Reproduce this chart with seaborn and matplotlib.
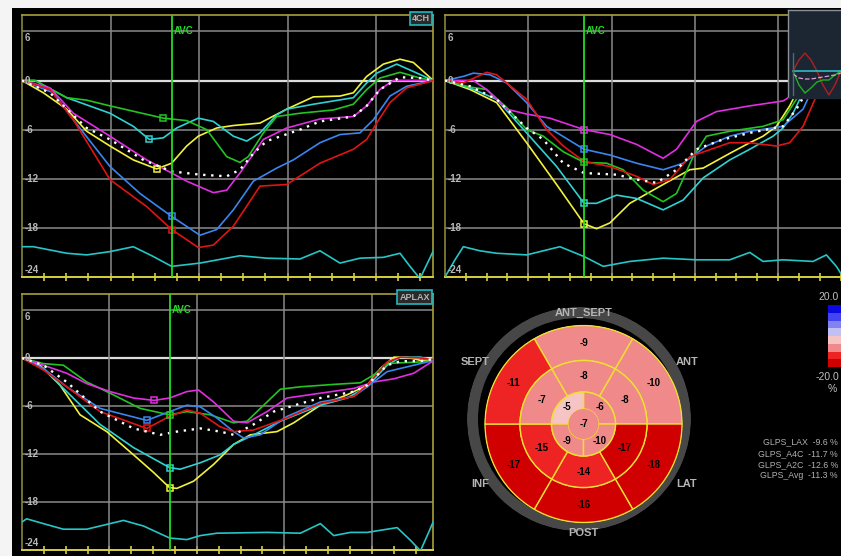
import numpy as np
import pandas as pd
import matplotlib
matplotlib.use("Agg")
import matplotlib.pyplot as plt
import seaborn as sns
from matplotlib.colors import ListedColormap, BoundaryNorm
from matplotlib.cm import ScalarMappable
from matplotlib.patches import Rectangle

# ---------------- segmental longitudinal strain curves (%) ----------------
# Apical 4-chamber view
a4c_yellow_t = [0, 0.241, 0.505, 0.731, 0.994, 1.258, 1.522, 1.691, 1.861, 1.992, 2.200, 2.388, 2.689, 2.991, 3.292, 3.593, 3.744, 3.895, 4.083, 4.271, 4.422, 4.648]
a4c_yellow_s = [0, -1.5, -3.5, -6.2, -8.0, -9.7, -10.8, -10.1, -8.0, -6.8, -5.8, -5.5, -5.2, -3.5, -2.0, -1.9, -1.5, 0.5, 2.0, 2.6, 2.2, 0]
a4c_cyan_t = [0, 0.147, 0.505, 0.994, 1.258, 1.439, 1.597, 1.748, 1.992, 2.162, 2.388, 2.539, 2.689, 2.878, 2.991, 3.292, 3.744, 3.895, 4.008, 4.234, 4.422, 4.648]
a4c_cyan_s = [0, 0, -2.1, -4.0, -5.6, -7.2, -7.0, -5.8, -4.6, -5.0, -6.8, -7.4, -6.4, -4.2, -3.5, -2.9, -2.1, -0.3, 0.9, 2.0, 1.1, 0]
a4c_green_t = [0, 0.147, 0.505, 0.731, 0.994, 1.597, 1.861, 2.087, 2.313, 2.463, 2.557, 2.727, 2.878, 3.141, 3.518, 3.744, 3.895, 4.045, 4.271, 4.497, 4.648]
a4c_green_s = [0, 0, -2.1, -2.4, -3.1, -4.6, -4.9, -6.0, -9.3, -10.0, -9.3, -6.4, -4.4, -4.0, -3.6, -2.9, -1.1, 0.3, 1.0, 0.3, 0]
a4c_magenta_t = [0, 0.316, 0.580, 0.994, 1.409, 1.691, 1.861, 2.162, 2.313, 2.463, 2.727, 2.991, 3.367, 3.744, 3.895, 4.045, 4.196, 4.648]
a4c_magenta_s = [0, -0.9, -4.0, -6.8, -9.7, -11.3, -12.3, -13.7, -13.4, -11.3, -7.2, -5.8, -4.7, -4.4, -3.1, -1.1, 0, 0]
a4c_blue_t = [0, 0.354, 0.580, 0.994, 1.333, 1.691, 2.011, 2.200, 2.388, 2.614, 2.878, 3.066, 3.367, 3.593, 3.819, 3.970, 4.158, 4.347, 4.648]
a4c_blue_s = [0, -1.5, -4.8, -10.5, -13.8, -16.6, -18.9, -18.2, -15.8, -12.3, -10.7, -9.7, -7.6, -6.6, -6.4, -4.8, -1.9, -0.7, 0]
a4c_red_t = [0, 0.316, 0.580, 0.994, 1.409, 1.691, 1.992, 2.162, 2.388, 2.689, 2.991, 3.367, 3.744, 3.895, 4.008, 4.158, 4.347, 4.648]
a4c_red_s = [0, -1.1, -4.8, -12.1, -15.4, -18.2, -20.4, -20.1, -17.8, -12.9, -12.7, -10.1, -8.4, -7.2, -5.2, -2.7, -0.9, 0]
a4c_avg_t = [0, 0.316, 0.731, 0.994, 1.371, 1.691, 2.011, 2.313, 2.463, 2.614, 2.765, 3.141, 3.367, 3.744, 3.895, 4.045, 4.271, 4.497, 4.648]
a4c_avg_s = [0, -1.5, -5.8, -7.2, -9.7, -11.1, -11.5, -11.7, -10.9, -8.9, -7.4, -6.0, -5.0, -4.4, -3.1, -1.1, 0.4, 0.3, 0]
a4c_ecg_t = [0, 0.128, 0.505, 0.731, 0.994, 1.258, 1.484, 1.691, 2.011, 2.463, 2.765, 3.141, 3.367, 3.593, 3.819, 4.083, 4.271, 4.384, 4.497, 4.648]
a4c_ecg_s = [-20.3, -20.3, -21.1, -21.3, -20.9, -20.3, -21.5, -22.7, -22.3, -21.4, -21.7, -21.8, -20.8, -22.3, -21.7, -21.6, -21.1, -22.7, -24.2, -20.8]
a4c_avc = 1.69
a4c_peak_idx = {"yellow": 6, "cyan": 5, "green": 5, "blue": 5, "red": 5}

# Apical 2-chamber view
a2c_yellow_t = [0, 0.30, 0.62, 0.98, 1.34, 1.67, 1.82, 1.98, 2.22, 2.62, 2.94, 3.10, 3.42, 3.66, 3.82, 3.98, 4.14, 4.26, 4.34, 4.75]
a2c_yellow_s = [0, -1.1, -2.7, -7.6, -12.7, -17.5, -18.1, -17.4, -15.0, -12.7, -10.9, -10.7, -8.9, -7.6, -6.8, -5.6, -3.1, -0.7, 0.9, 0]
a2c_cyan_t = [0, 0.30, 0.62, 0.98, 1.34, 1.67, 1.82, 2.06, 2.30, 2.62, 2.86, 3.10, 3.42, 3.66, 3.94, 4.06, 4.18, 4.26, 4.42, 4.75]
a2c_cyan_s = [0, -0.9, -2.3, -6.4, -10.5, -15.0, -15.0, -14.0, -14.4, -15.8, -14.6, -11.9, -9.7, -8.4, -6.8, -5.8, -4.0, -2.3, 0.5, 0]
a2c_green_t = [0, 0.30, 0.50, 0.74, 0.98, 1.18, 1.42, 1.67, 1.94, 2.14, 2.38, 2.62, 2.78, 2.98, 3.14, 3.42, 3.82, 4.06, 4.22, 4.42, 4.75]
a2c_green_s = [0, -0.8, -1.1, -3.3, -6.0, -6.8, -8.7, -10.0, -10.1, -10.9, -13.4, -14.8, -13.8, -9.3, -6.8, -6.2, -5.6, -4.8, -2.3, 0.5, 0]
a2c_magenta_t = [0, 0.34, 0.50, 0.74, 0.98, 1.26, 1.67, 1.98, 2.30, 2.62, 2.78, 3.02, 3.26, 3.66, 4.06, 4.22, 4.42, 4.75]
a2c_magenta_s = [0, 0, -1.1, -3.5, -4.1, -4.6, -6.0, -6.6, -7.8, -9.5, -8.4, -5.0, -3.8, -3.1, -2.5, -1.5, 0.5, 0]
a2c_blue_t = [0, 0.22, 0.34, 0.54, 0.74, 0.98, 1.22, 1.67, 1.98, 2.30, 2.62, 2.86, 3.14, 3.42, 3.66, 4.06, 4.30, 4.46, 4.75]
a2c_blue_s = [0, 0.5, 0.9, 0.7, -0.3, -2.7, -5.6, -8.4, -9.1, -10.1, -10.9, -10.1, -8.0, -6.8, -6.2, -5.6, -3.5, 0, 0]
a2c_red_t = [0, 0.22, 0.50, 0.62, 0.98, 1.22, 1.42, 1.67, 1.98, 2.30, 2.50, 2.70, 2.94, 3.42, 3.66, 3.98, 4.14, 4.30, 4.46, 4.58, 4.75]
a2c_red_s = [0, -0.3, 1.0, 0.7, -2.3, -6.0, -8.0, -9.9, -10.5, -11.7, -12.7, -12.1, -9.3, -7.6, -7.6, -8.0, -7.6, -5.6, -1.9, 0.5, 0]
a2c_avg_t = [0, 0.30, 0.62, 0.98, 1.18, 1.42, 1.67, 2.06, 2.30, 2.54, 2.78, 3.02, 3.34, 3.66, 4.06, 4.22, 4.42, 4.75]
a2c_avg_s = [0, -0.7, -2.3, -5.8, -7.2, -10.1, -11.3, -11.5, -12.1, -12.5, -10.9, -8.4, -7.2, -6.4, -5.6, -3.5, 0, 0]
a2c_ecg_t = [0, 0.12, 0.22, 0.42, 0.62, 0.98, 1.38, 1.67, 1.90, 2.22, 2.62, 3.02, 3.42, 3.66, 3.82, 4.06, 4.42, 4.58, 4.70, 4.75]
a2c_ecg_s = [-24.0, -21.9, -20.3, -20.8, -21.1, -21.3, -20.3, -21.5, -22.7, -22.1, -21.7, -21.9, -21.9, -21.0, -22.1, -21.9, -22.1, -21.3, -22.7, -23.5]
a2c_avc = 1.67
a2c_peak_idx = {"yellow": 5, "cyan": 5, "green": 7, "magenta": 6, "blue": 7}

# Apical long-axis view
lax_yellow_t = [0, 0.206, 0.435, 0.664, 0.969, 1.275, 1.504, 1.687, 1.771, 1.962, 2.191, 2.420, 2.611, 2.916, 3.107, 3.412, 3.718, 3.947, 4.099, 4.252, 4.405, 4.557, 4.710]
lax_yellow_s = [0, -0.9, -3.4, -7.1, -9.2, -12.1, -14.3, -16.2, -16.3, -15.4, -13.3, -10.8, -9.6, -9.2, -8.1, -5.9, -4.6, -3.4, -1.3, 0.1, 0.1, -0.3, -0.3]
lax_cyan_t = [0, 0.244, 0.511, 0.893, 1.275, 1.687, 1.809, 2.038, 2.267, 2.420, 2.649, 2.954, 3.412, 3.718, 3.947, 4.176, 4.328, 4.557, 4.710]
lax_cyan_s = [0, -1.3, -4.2, -8.3, -11.2, -13.7, -13.9, -13.1, -12.1, -10.8, -9.6, -7.9, -5.9, -5.0, -3.6, -0.9, 0.1, 0.1, -0.3]
lax_green_t = [0, 0.244, 0.473, 0.740, 1.008, 1.351, 1.687, 1.885, 2.153, 2.420, 2.573, 2.802, 2.954, 3.183, 3.565, 3.870, 4.023, 4.176, 4.328, 4.557, 4.710]
lax_green_s = [0, -0.7, -0.9, -3.0, -4.4, -6.3, -7.1, -6.7, -7.1, -8.1, -7.9, -5.5, -3.9, -3.6, -3.3, -3.1, -2.1, -0.7, -0.6, -0.5, -0.3]
lax_magenta_t = [0, 0.244, 0.511, 0.740, 1.008, 1.275, 1.511, 1.687, 1.885, 2.019, 2.191, 2.420, 2.573, 2.802, 3.031, 3.412, 3.794, 4.023, 4.252, 4.481, 4.710]
lax_magenta_s = [0, -0.9, -1.9, -3.2, -4.2, -5.0, -5.3, -5.0, -4.2, -4.0, -5.5, -7.9, -8.1, -6.7, -5.0, -4.4, -3.8, -3.0, -2.6, -1.9, -0.3]
lax_blue_t = [0, 0.244, 0.511, 0.893, 1.427, 1.687, 1.885, 2.038, 2.229, 2.420, 2.534, 2.725, 3.031, 3.412, 3.794, 3.947, 4.176, 4.405, 4.710]
lax_blue_s = [0, -1.3, -3.6, -6.3, -7.8, -6.7, -5.9, -6.1, -7.5, -9.2, -10.0, -9.6, -7.3, -5.5, -4.8, -3.6, -1.7, -1.1, -0.3]
lax_red_t = [0, 0.244, 0.511, 0.893, 1.427, 1.687, 1.885, 2.038, 2.267, 2.420, 2.649, 3.031, 3.412, 3.794, 3.947, 4.176, 4.328, 4.557, 4.710]
lax_red_s = [0, -1.5, -3.6, -6.7, -8.8, -7.3, -6.5, -6.9, -8.6, -9.2, -9.0, -7.5, -5.7, -4.8, -3.4, -0.5, 0.1, 0, -0.2]
lax_avg_t = [0, 0.244, 0.511, 0.893, 1.275, 1.580, 1.771, 2.038, 2.267, 2.420, 2.649, 2.878, 3.183, 3.412, 3.794, 3.947, 4.176, 4.328, 4.557, 4.710]
lax_avg_s = [0, -0.9, -3.0, -6.7, -8.8, -9.6, -9.2, -8.8, -9.2, -9.6, -8.3, -6.7, -5.7, -5.0, -4.2, -3.4, -0.9, -0.4, -0.4, -0.1]
lax_ecg_t = [0, 0.053, 0.244, 0.473, 0.740, 1.008, 1.160, 1.389, 1.687, 1.885, 2.038, 2.229, 2.802, 3.183, 3.412, 3.565, 3.756, 3.947, 4.290, 4.443, 4.557, 4.710]
lax_ecg_s = [-20.5, -20.1, -20.7, -21.4, -21.4, -20.7, -20.3, -21.0, -22.5, -22.7, -22.2, -21.9, -21.8, -21.9, -20.7, -22.2, -21.8, -21.8, -21.2, -22.8, -24.1, -20.3]
lax_avc = 1.687
lax_peak_idx = {"yellow": 7, "cyan": 5, "green": 6, "magenta": 6, "blue": 4, "red": 4}

y_tick_values = [6, 0, -6, -12, -18, -24]

# ---------------- bull's-eye (17 segments) ----------------
ring_angles = [90, 30, 330, 270, 210, 150]
ring_names = ["ANT_SEPT", "ANT", "LAT", "POST", "INF", "SEPT"]
basal_values = [-9, -10, -18, -16, -17, -11]
mid_values = [-8, -8, -17, -14, -15, -7]
apical_angles = [45, 135, 225, 315]
apical_values = [-6, -5, -9, -10]
apex_value = -7

glps_names = ["GLPS_LAX", "GLPS_A4C", "GLPS_A2C", "GLPS_Avg"]
glps_values = [-9.6, -11.7, -12.6, -11.3]

# thumbnail of the selected segment trace
thumb_t = [0, 0.125, 0.25, 0.375, 0.5, 0.625, 0.75, 0.875, 1.0]
thumb_red = [0, 11, 18, 11, 0, -14, -24, -14, 0]
thumb_green = [0, -14, -22, -17, -11, -9, -9, -4, 0]
thumb_pink = [-3, -7, -8, -8, -7, -6, -5, -4, -2]
thumb_cyan = [0, 0, 0, 0, 0, 0, 0, 0, 0]

# ---------------- styling ----------------
sns.set_theme(style="dark", rc={"axes.facecolor": "black", "figure.facecolor": "black"})
plt.rcParams["font.family"] = ["Liberation Sans", "DejaVu Sans"]

SEG_COLORS = {"yellow": "#f2f23c", "cyan": "#2fd2d2", "green": "#22c422",
              "magenta": "#e22ee2", "blue": "#3a86f0", "red": "#e01414"}
ECG_COLOR = "#26c6c6"
AVC_COLOR = "#22dd22"
FRAME = "#a8a038"
FRAME_BOTTOM = "#d8d040"
LABEL_GRAY = "#b8b8b8"

W, H = 841, 556


def px_rect(x0, y0, x1, y1):
    return [x0 / W, 1 - y1 / H, (x1 - x0) / W, (y1 - y0) / H]


def px_pt(x, y):
    return x / W, 1 - y / H


fig = plt.figure(figsize=(W / 100, H / 100), dpi=100)
fig.patch.set_facecolor("black")
fig.add_artist(Rectangle((0, 1 - 8 / H), 1, 8 / H, transform=fig.transFigure,
                         facecolor="#f4f4f4", edgecolor="none"))
fig.add_artist(Rectangle((0, 0), 12 / W, 1, transform=fig.transFigure,
                         facecolor="#f4f4f4", edgecolor="none"))


def strain_panel(rect, xmax, curves, peaks, avg, ecg, avc, view, box_xy):
    ax = fig.add_axes(px_rect(*rect))
    ax.set_facecolor("black")
    for g in (6, -6, -12, -18):
        ax.axhline(g, color="#8a8a8a", lw=1.1, zorder=1)
    ax.axhline(0, color="#dcdcdc", lw=1.6, zorder=1)
    for g in range(1, int(xmax) + 1):
        ax.axvline(g, color="#8a8a8a", lw=1.1, zorder=1)

    frames = []
    for name, (t, s) in curves.items():
        frames.append(pd.DataFrame({"time": t, "strain": s, "segment": name}))
    df = pd.concat(frames, ignore_index=True)
    sns.lineplot(data=df, x="time", y="strain", hue="segment", palette=SEG_COLORS,
                 estimator=None, sort=False, legend=False, lw=1.2, ax=ax, zorder=3)
    for name, idx in peaks.items():
        t, s = curves[name]
        ax.plot(t[idx], s[idx], "s", ms=4, mfc="none", mec=SEG_COLORS[name],
                mew=1.1, zorder=4)

    sns.lineplot(x=avg[0], y=avg[1], color="white", lw=1.7,
                 linestyle=(0, (1, 2.4)), estimator=None, sort=False, ax=ax, zorder=4)
    sns.lineplot(x=ecg[0], y=ecg[1], color=ECG_COLOR, lw=1.2,
                 estimator=None, sort=False, ax=ax, zorder=3)

    ax.axvline(avc, color=AVC_COLOR, lw=1.3, zorder=5)
    ax.text(avc + 0.02, 6, "AVC", color=AVC_COLOR, fontsize=7, fontweight="bold",
            ha="left", va="center", zorder=6)

    ax.set_xlim(0, xmax)
    ax.set_ylim(-24, 8)
    ax.set_xlabel("")
    ax.set_ylabel("")
    ax.set_yticks([])
    ax.set_xticks(np.arange(0.25, xmax, 0.25))
    ax.tick_params(axis="x", direction="inout", length=6, width=1.2,
                   color=FRAME_BOTTOM, labelbottom=False, bottom=True)
    ax.grid(False)
    for side in ("top", "left", "right"):
        ax.spines[side].set_color(FRAME)
        ax.spines[side].set_linewidth(1.2)
    ax.spines["left"].set_color("#8a8638")
    ax.spines["bottom"].set_color(FRAME_BOTTOM)
    ax.spines["bottom"].set_linewidth(1.4)

    ytr = ax.get_yaxis_transform()
    for v in y_tick_values:
        if v == 6:
            y, va = 5.8, "top"
        elif v == -24:
            y, va = -23.8, "bottom"
        else:
            y, va = v, "center"
        ax.text(0.006, y, f"{v}", transform=ytr, color=LABEL_GRAY, fontsize=7,
                fontweight="bold", ha="left", va=va, zorder=6)

    if view:
        bx, by = box_xy
        ax.text(bx, by, view, transform=ax.transAxes, ha="center", va="center",
                fontsize=6.5, color="#b4b4b4", fontweight="bold", zorder=10,
                bbox=dict(boxstyle="square,pad=0.25", fc="#2a2a2a", ec="#20b8c0", lw=1.2))
    return ax


a4c = strain_panel((22, 15, 433, 277), 4.644,
                   {"yellow": (a4c_yellow_t, a4c_yellow_s), "cyan": (a4c_cyan_t, a4c_cyan_s),
                    "green": (a4c_green_t, a4c_green_s), "magenta": (a4c_magenta_t, a4c_magenta_s),
                    "blue": (a4c_blue_t, a4c_blue_s), "red": (a4c_red_t, a4c_red_s)},
                   a4c_peak_idx, (a4c_avg_t, a4c_avg_s), (a4c_ecg_t, a4c_ecg_s),
                   a4c_avc, "4CH", (0.971, 0.987))

a2c = strain_panel((445, 15, 853, 277), 4.9,
                   {"yellow": (a2c_yellow_t, a2c_yellow_s), "cyan": (a2c_cyan_t, a2c_cyan_s),
                    "green": (a2c_green_t, a2c_green_s), "magenta": (a2c_magenta_t, a2c_magenta_s),
                    "blue": (a2c_blue_t, a2c_blue_s), "red": (a2c_red_t, a2c_red_s)},
                   a2c_peak_idx, (a2c_avg_t, a2c_avg_s), (a2c_ecg_t, a2c_ecg_s),
                   a2c_avc, None, None)

lax = strain_panel((22, 294, 433, 550), 4.70,
                   {"yellow": (lax_yellow_t, lax_yellow_s), "cyan": (lax_cyan_t, lax_cyan_s),
                    "green": (lax_green_t, lax_green_s), "magenta": (lax_magenta_t, lax_magenta_s),
                    "blue": (lax_blue_t, lax_blue_s), "red": (lax_red_t, lax_red_s)},
                   lax_peak_idx, (lax_avg_t, lax_avg_s), (lax_ecg_t, lax_ecg_s),
                   lax_avc, "APLAX", (0.956, 0.988))

# thumbnail trace window in the corner of the 2-chamber panel
thumb = fig.add_axes(px_rect(788, 10, 850, 98))
thumb.set_facecolor("#1c2632")
sns.lineplot(x=thumb_t, y=thumb_red, color="#b02020", lw=1.0, ax=thumb, estimator=None)
sns.lineplot(x=thumb_t, y=thumb_green, color="#20b020", lw=1.0, ax=thumb, estimator=None)
sns.lineplot(x=thumb_t, y=thumb_pink, color="#d8a0d8", lw=0.9, linestyle="--", ax=thumb, estimator=None)
sns.lineplot(x=thumb_t, y=thumb_cyan, color="#30c8d0", lw=1.1, ax=thumb, estimator=None)
thumb.plot([0, 0], [-24, 18], color="#4a6a80", lw=1.0)
thumb.set_xlim(-0.104, 1.19)
thumb.set_ylim(-27, 61)
thumb.set_xticks([])
thumb.set_yticks([])
thumb.set_xlabel("")
thumb.set_ylabel("")
for side, sp in thumb.spines.items():
    sp.set_color("#8a9098" if side in ("left", "top") else "#1c2632")
    sp.set_linewidth(1.0)

# ---------------- bull's-eye plot ----------------
ring_ax = fig.add_axes(px_rect(579 - 112, 419 - 112, 579 + 112, 419 + 112), projection="polar")
ring_ax.bar(0, 11, width=2 * np.pi, bottom=101, color="#474747", edgecolor="none")
ring_ax.set_ylim(0, 112)
ring_ax.set_axis_off()

BE_COLORS = ["#d00000", "#ee2424", "#f08a8a", "#f6c4c4",
             "#c0c0f2", "#8282f0", "#4444f0", "#0a0ae0"]
be_cmap = ListedColormap(BE_COLORS)
be_norm = BoundaryNorm(np.arange(-20, 21, 5), be_cmap.N)

R_OUT, R_MID, R_API, R_APEX = 98.5, 63.5, 32.0, 15.0
cx, cy = 583.5, 424
be = fig.add_axes(px_rect(cx - 99.5, cy - 99.5, cx + 99.5, cy + 99.5), projection="polar")
edge = dict(edgecolor="#f0e030", linewidth=1.0)
th = np.deg2rad(ring_angles)
be.bar(th, R_OUT - R_MID, width=np.deg2rad(60), bottom=R_MID,
       color=be_cmap(be_norm(basal_values)), **edge)
be.bar(th, R_MID - R_API, width=np.deg2rad(60), bottom=R_API,
       color=be_cmap(be_norm(mid_values)), **edge)
be.bar(np.deg2rad(apical_angles), R_API - R_APEX, width=np.deg2rad(90), bottom=R_APEX,
       color=be_cmap(be_norm(apical_values)), **edge)
be.bar(0, R_APEX, width=2 * np.pi, bottom=0,
       color=be_cmap(be_norm([apex_value]))[0], edgecolor="none")
be.set_ylim(0, 99.5)
be.set_axis_off()

num_style = dict(ha="center", va="center", fontsize=7, fontweight="bold", color="black")
for a, v in zip(ring_angles, basal_values):
    be.text(np.deg2rad(a), 81, f"{v}", **num_style)
for a, v in zip(ring_angles, mid_values):
    be.text(np.deg2rad(a), 48, f"{v}", **num_style)
for a, v in zip(apical_angles, apical_values):
    be.text(np.deg2rad(a), 23.5, f"{v}", **num_style)
be.text(0, 0, f"{apex_value}", **num_style)

name_pos = {"ANT_SEPT": (583.5, 313), "ANT": (687.5, 362), "LAT": (687, 484),
            "POST": (583, 533), "INF": (480, 484), "SEPT": (475, 362)}
for name in ring_names:
    fig.text(*px_pt(*name_pos[name]), name, ha="center", va="center",
             fontsize=8, fontweight="bold", color="#b4b4b4")

# colour scale
cax = fig.add_axes(px_rect(828, 305, 848, 367))
cb = fig.colorbar(ScalarMappable(norm=be_norm, cmap=be_cmap), cax=cax)
cb.outline.set_visible(False)
cb.set_ticks([])
fig.text(*px_pt(839, 297), "20.0", ha="right", va="center", fontsize=7.5, color="#c0c0c0")
fig.text(*px_pt(839, 377), "-20.0", ha="right", va="center", fontsize=7.5, color="#c0c0c0")
fig.text(*px_pt(832, 389), "%", ha="center", va="center", fontsize=7.5, color="#c0c0c0")

# global strain summary
for i, (name, val) in enumerate(zip(glps_names, glps_values)):
    fig.text(*px_pt(838, 442 + 11.3 * i), f"{name}  {val:.1f} %", ha="right", va="center",
             fontsize=6.3, color="#b0b0b0")

fig.savefig("out.png", dpi=100, facecolor=fig.get_facecolor())
